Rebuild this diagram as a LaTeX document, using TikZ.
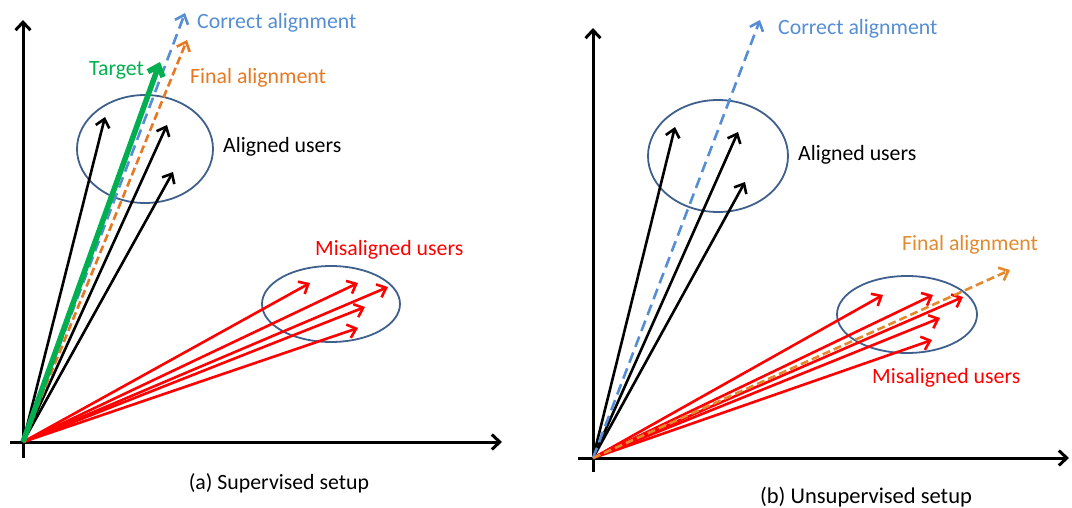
\documentclass[tikz,border=0pt]{standalone}
\usepackage{fontspec}
\setmainfont{Carlito}
\usetikzlibrary{arrows.meta,shapes.geometric}
\definecolor{cblue}{HTML}{558ED5}
\definecolor{corange}{HTML}{E87722}
\definecolor{corange2}{HTML}{E38A2E}
\definecolor{cgreen}{HTML}{00B050}
\definecolor{cred}{HTML}{FF0000}
\definecolor{cell}{HTML}{3F5F8C}
\tikzset{
  axis/.style={line width=3pt, black, -{Straight Barb[length=8pt,width=15pt]}},
  vec/.style={line width=2.6pt, -{Straight Barb[length=8pt,width=14pt]}},
  blk/.style={vec, black},
  redv/.style={vec, cred},
  greenv/.style={line width=5.5pt, cgreen, -{Straight Barb[length=9pt,width=16pt]}},
  bdash/.style={vec, cblue, dash pattern=on 11pt off 6pt},
  odash/.style={vec, corange, dash pattern=on 8pt off 4pt},
  grp/.style={draw=cell, line width=1.8pt, ellipse, inner sep=0pt},
  lab/.style={inner sep=0pt, anchor=west, font=\fontsize{21.8}{24}\selectfont},
}
\begin{document}
\begin{tikzpicture}[x=1pt,y=-1pt]
\useasboundingbox (0,0) rectangle (1072,508);
% ---------- (a) Supervised ----------
\coordinate (O1) at (23,442);
\coordinate (ya0) at (23,458);
\coordinate (ya1) at (23,20);
\coordinate (xa0) at (10,442);
\coordinate (xa1) at (502,442);
\draw[axis] (ya0) -- (ya1);
\draw[axis] (xa0) -- (xa1);
\node[grp, minimum width=136pt, minimum height=108pt] (e1) at (145,149) {};
\node[grp, minimum width=138pt, minimum height=76pt] (e2) at (331,304) {};
% aligned users
\coordinate (a1) at (105,117);
\coordinate (a2) at (167,125);
\coordinate (a3) at (173,172);
\draw[blk] (O1) -- (a1);
\draw[blk] (O1) -- (a2);
\draw[blk] (O1) -- (a3);
% misaligned users
\coordinate (m1) at (310,283);
\coordinate (m2) at (358,283);
\coordinate (m3) at (388,287);
\coordinate (m4) at (365,307);
\coordinate (m5) at (358,328);
\foreach \t in {m1,m2,m3,m4,m5} \draw[redv] (O1) -- (\t);
% alignments
\coordinate (ca1) at (185,13);
\coordinate (fa1) at (187,40);
\coordinate (tg1) at (160,62);
\draw[bdash] (O1) -- (ca1);
\draw[odash] (O1) -- (fa1);
\draw[greenv] (O1) -- (tg1);
\node[lab, text=cblue] (lca1) at (197,23) {Correct alignment};
\node[lab, text=corange] (lfa1) at (190,78) {Final alignment};
\node[lab, text=cgreen] (ltg1) at (89,70) {Target};
\node[lab] (lau1) at (223,147) {Aligned users};
\node[lab, text=cred] (lmu1) at (315,250) {Misaligned users};
\node[inner sep=0pt, font=\fontsize{21.8}{24}\selectfont] (cap1) at (279,483) {(a) Supervised setup};
% ---------- (b) Unsupervised ----------
\coordinate (O2) at (593,458);
\coordinate (yb0) at (593,472);
\coordinate (yb1) at (593,28);
\coordinate (xb0) at (578,458);
\coordinate (xb1) at (1069,458);
\draw[axis] (yb0) -- (yb1);
\draw[axis] (xb0) -- (xb1);
\node[grp, minimum width=140pt, minimum height=112pt] (e3) at (718,156) {};
\node[grp, minimum width=140pt, minimum height=77pt] (e4) at (907,314.5) {};
\coordinate (b1) at (675,127);
\coordinate (b2) at (738,132);
\coordinate (b3) at (745,182);
\draw[blk] (O2) -- (b1);
\draw[blk] (O2) -- (b2);
\draw[blk] (O2) -- (b3);
\coordinate (n1) at (883,295);
\coordinate (n2) at (933,295);
\coordinate (n3) at (963,297);
\coordinate (n4) at (940,318);
\coordinate (n5) at (932,340);
\foreach \t in {n1,n2,n3,n4,n5} \draw[redv] (O2) -- (\t);
\coordinate (ca2) at (760,20);
\coordinate (fa2) at (1010,270);
\draw[bdash] (O2) -- (ca2);
\draw[odash, corange2] (O2) -- (fa2);
\node[lab, text=cblue] (lca2) at (778,29) {Correct alignment};
\node[lab, text=corange2] (lfa2) at (902,245) {Final alignment};
\node[lab] (lau2) at (798,155) {Aligned users};
\node[lab, text=cred] (lmu2) at (872,378) {Misaligned users};
\node[inner sep=0pt, font=\fontsize{22.5}{24}\selectfont] (cap2) at (866,497) {(b) Unsupervised setup};
\end{tikzpicture}
\end{document}
